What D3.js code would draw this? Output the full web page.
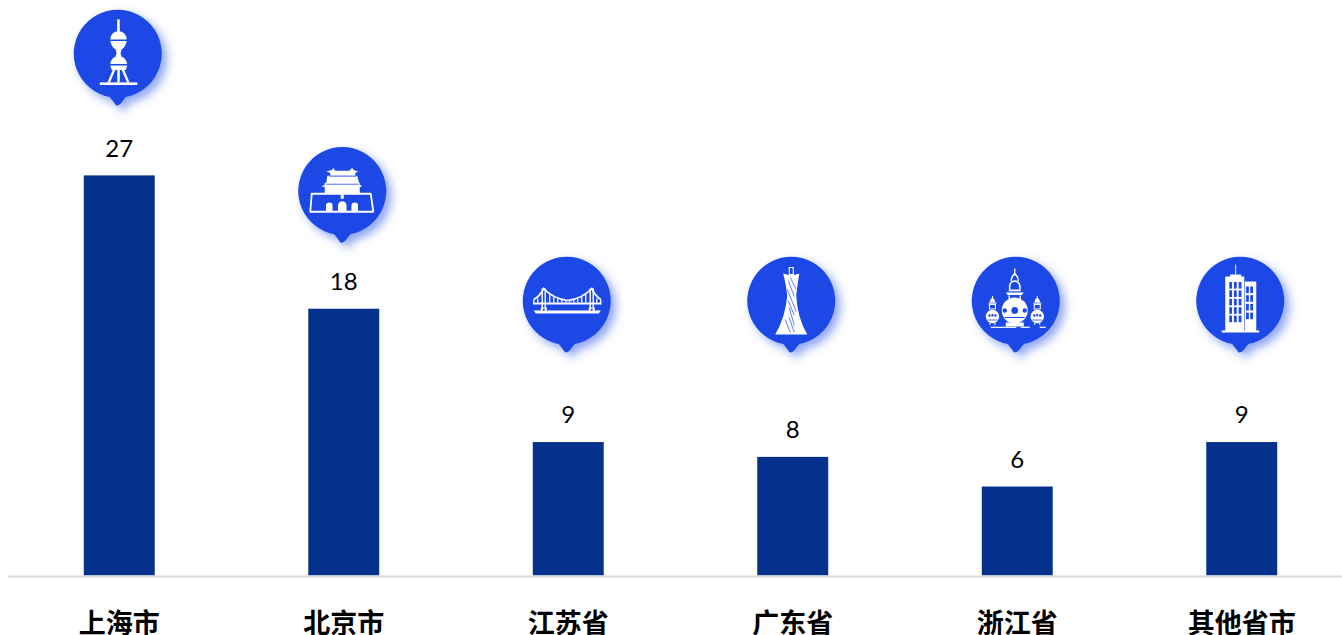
<!DOCTYPE html>
<html>
<head>
<meta charset="utf-8">
<script src="https://cdn.jsdelivr.net/npm/d3@7/dist/d3.min.js"></script>
<style>
  html, body { margin: 0; padding: 0; background: #fff; overflow: hidden; }
  svg { display: block; }
</style>
</head>
<body>
<div id="chart-area"></div>
<script>
var provinces = ["上海市", "北京市", "江苏省", "广东省", "浙江省", "其他省市"];
var counts = [27, 18, 9, 8, 6, 9];
var icons = ["tower", "gate", "bridge", "canton", "pagoda", "office"];

var width = 1342, height = 635;
var blue = "#1f4ae6", navy = "#03318c";

var svg = d3.select("#chart-area").append("svg")
    .attr("width", width)
    .attr("height", height);

var defs = svg.append("defs");
var shadow = defs.append("filter")
    .attr("id", "pin-shadow")
    .attr("x", "-30%").attr("y", "-30%")
    .attr("width", "170%").attr("height", "170%");
shadow.append("feDropShadow")
    .attr("dx", 5).attr("dy", 5)
    .attr("stdDeviation", 5)
    .attr("flood-color", blue)
    .attr("flood-opacity", 0.5);

var x = d3.scaleBand()
    .domain(provinces)
    .range([7, 1354])
    .paddingInner(0.684)
    .paddingOuter(0.342);

var y = d3.scaleLinear()
    .domain([0, 27])
    .range([575.4, 175.4]);

var rows = provinces.map((p, i) => ({ name: p, value: counts[i], icon: icons[i] }));

svg.selectAll("rect.bar")
    .data(rows)
    .enter().append("rect")
    .attr("class", "bar")
    .attr("x", d => x(d.name))
    .attr("y", d => y(d.value))
    .attr("width", x.bandwidth())
    .attr("height", d => y(0) - y(d.value))
    .attr("fill", navy);

svg.selectAll("text.value")
    .data(rows)
    .enter().append("text")
    .attr("class", "value")
    .attr("x", d => x(d.name) + x.bandwidth() / 2)
    .attr("y", d => y(d.value) - 18.6)
    .attr("text-anchor", "middle")
    .attr("font-family", "Lato, 'Open Sans', sans-serif")
    .attr("font-size", 24)
    .attr("fill", "#000")
    .text(d => d.value);

var axis = svg.append("g")
    .attr("transform", "translate(0,576)")
    .call(d3.axisBottom(x).tickSize(0).tickPadding(38));
axis.select(".domain").attr("stroke", "#d9d9d9").attr("stroke-width", 2);
axis.selectAll("text")
    .attr("font-family", "'Noto Sans CJK SC', sans-serif")
    .attr("font-size", 27)
    .attr("font-weight", 700)
    .attr("fill", "#000");

// white pictograms, drawn around the centre of each pin
function shape(g, tag, attrs, fill) {
    var s = g.append(tag).attr("fill", fill || "#fff");
    Object.keys(attrs).forEach(k => s.attr(k, attrs[k]));
    return s;
}
function line(g, d, w, colour) {
    return g.append("path").attr("d", d).attr("fill", "none")
        .attr("stroke", colour || "#fff").attr("stroke-width", w || 1);
}

var drawIcon = {
    tower: function (g) {
        shape(g, "rect", { x: -0.6, y: -35, width: 2.6, height: 14 });
        shape(g, "path", { d: "M-7.5,-15 A8,8 0 0 1 9,-15 Z" });
        shape(g, "path", { d: "M-7.5,-13.5 L9,-13.5 Q7,-4.5 1,-4.5 Q-5.5,-4.5 -7.5,-13.5 Z" });
        shape(g, "path", { d: "M-2.2,-5 L3.8,-5 L2.8,-1 L3.8,2 L-2.2,2 L-1.2,-1 Z" });
        shape(g, "path", { d: "M-7.5,9.5 Q-6,1.5 0.8,1.5 Q7.5,1.5 9.5,9.5 Z" });
        shape(g, "path", { d: "M-7.5,11 L9.5,11 L8,15.5 L-6,15.5 Z" });
        line(g, "M-3.5,15 L-9,28 M5,15 L10.5,28 M0.8,15 L0.8,28", 2.4);
        shape(g, "rect", { x: -18, y: 28, width: 37.5, height: 2.6 });
    },
    gate: function (g) {
        line(g, "M-30.5,2 L28.5,2 L31,20 L-32,20 Z", 1.8).attr("stroke-linejoin", "round");
        [[-13, 3.3], [0, 4.3], [12.5, 3.3]].forEach(a => {
            shape(g, "path", { d: "M" + (a[0] - a[1]) + ",20 V" + (15 - a[1] * 0.3) +
                " A" + a[1] + "," + a[1] + " 0 0 1 " + (a[0] + a[1]) + "," + (15 - a[1] * 0.3) + " V20 Z" });
        });
        shape(g, "rect", { x: -17.5, y: -9, width: 35, height: 11 });
        shape(g, "path", { d: "M-21,-5 L-16,-8 L-15,-16 L15,-16 L17,-8 L20,-5 Z" });
        shape(g, "path", { d: "M-12,-16 V-19 L-16,-20 L-10,-22 L-9,-24 L-7,-21 L7,-21 L10,-24 L11,-22 L16,-20 L13,-19 V-16 Z" });
        line(g, "M-13,-15.5 H14", 0.8, blue);
        line(g, "M-16,-7.5 H17", 0.8, blue);
        shape(g, "rect", { x: -1.5, y: 2, width: 3, height: 5 });
    },
    bridge: function (g) {
        shape(g, "rect", { x: -33, y: 1, width: 67, height: 2 });
        shape(g, "path", { d: "M-33,9 H34 L32,12 H-31 Z" });
        line(g, "M-33,-2 Q-27,-5 -23,-13 Q-14,-3 1,-1 Q16,-3 25,-13 Q29,-5 34,-2", 1.7);
        line(g, "M-33,-2 V3 M34,-2 V3", 1.3);
        line(g, "M-24.5,-13 V8 M-21.5,-13 V8 M23.5,-13 V8 M26.5,-13 V8", 1.4);
        line(g, "M-29,-3 V1 M-17,-7 V1 M-13,-4.5 V1 M-9,-3 V1 M-5,-2 V1 M-1,-1 V1 M3,-1 V1 M7,-2 V1 M11,-3 V1 M15,-4.5 V1 M19,-7 V1 M30,-3 V1", 1.3);
        shape(g, "rect", { x: -26, y: 6, width: 6, height: 4 });
        shape(g, "rect", { x: 22, y: 6, width: 6, height: 4 });
        shape(g, "rect", { x: -24, y: 7.2, width: 2, height: 2 }, blue);
        shape(g, "rect", { x: 24, y: 7.2, width: 2, height: 2 }, blue);
    },
    canton: function (g) {
        shape(g, "path", { d: "M-8,-28 Q0,-25 8,-28 Q6,-16 5,-6 Q6,16 16,33 H-16 Q-6,16 -4,-6 Q-5,-16 -8,-28 Z" });
        line(g, "M-2,-34 H2 V-27 H-2 Z", 1.1);
        line(g, "M-3,-21 L3,-5 M-1,-24 L5,-12 M-4,-12 L5,10 M-3,-1 L3,14 M-2,6 L3,24 M-6,18 L-1,31 M-2,16 L3,31", 0.7, blue);
    },
    pagoda: function (g) {
        // big urn
        shape(g, "circle", { cx: -1, cy: 9, r: 13 });
        shape(g, "circle", { cx: -1, cy: 9, r: 3.4 }, blue);
        shape(g, "circle", { cx: -11, cy: 9, r: 2.2 }, blue);
        shape(g, "circle", { cx: 9, cy: 9, r: 2.2 }, blue);
        line(g, "M-11,16 H9", 1, blue);
        shape(g, "rect", { x: -10, y: 21, width: 18, height: 4 });
        // top of the big urn
        line(g, "M-1,-33 V-26", 1.3);
        line(g, "M-1,-28 Q-5,-24 -4.5,-20.5 M-1,-28 Q3,-24 2.5,-20.5", 1.4);
        line(g, "M-6,-12 Q-7,-20 -1,-20.5 Q5,-20 4,-12", 1.6);
        shape(g, "rect", { x: -7, y: -12, width: 12, height: 1.8 });
        shape(g, "path", { d: "M-10,-9 H8 L6,-6.5 H-8 Z" });
        line(g, "M-6.5,-6 V-2 M4.5,-6 V-2 M-7,-1.5 H5", 1.4);
        // small urns either side
        [-23.3, 21.5].forEach(cx => {
            var s = g.append("g").attr("transform", "translate(" + cx + ",0)");
            line(s, "M0,-5.5 V-2", 1);
            shape(s, "path", { d: "M-2,-2 Q0,-5 2,-2 L3,1 H-3 Z" });
            shape(s, "rect", { x: -4, y: 1.2, width: 8, height: 1 });
            line(s, "M-3,3 H3 V7.5 H-3 Z", 1.1);
            shape(s, "circle", { cx: 0, cy: 15, r: 6.7 });
            shape(s, "circle", { cx: -3, cy: 14, r: 1.2 }, blue);
            shape(s, "circle", { cx: 3, cy: 14, r: 1.2 }, blue);
            shape(s, "rect", { x: -1, y: 12.5, width: 2, height: 2.4 }, blue);
            line(s, "M-5,18.5 H5", 0.8, blue);
            line(s, "M-2.5,21 V23.5 M2.5,21 V23.5", 1);
        });
        shape(g, "rect", { x: -25, y: 25.2, width: 25.5, height: 1.2 });
        shape(g, "rect", { x: 5, y: 25.2, width: 9, height: 1.2 });
        shape(g, "rect", { x: 24, y: 25.2, width: 6, height: 1.2 });
    },
    office: function (g) {
        shape(g, "rect", { x: -5, y: -37, width: 0.9, height: 10 });
        shape(g, "path", { d: "M-15,30 V-25 L-10,-25 L-10,-27 L1,-27 L1,-25 L4,-25 V30 Z" });
        shape(g, "rect", { x: 4.5, y: -20, width: 11.5, height: 50 });
        shape(g, "rect", { x: -18.5, y: 29, width: 37.5, height: 2 });
        d3.range(5).forEach(r => {
            [-11, -6.3, -1.6].forEach(c => {
                shape(g, "rect", { x: c, y: -19.5 + r * 8.4, width: 2.8, height: 6.6 }, blue);
            });
        });
        d3.range(4).forEach(r => {
            [5.8, 10].forEach(c => {
                shape(g, "rect", { x: c, y: -15 + r * 8.7, width: 2.8, height: 6.6 }, blue);
            });
        });
    }
};

// pins float above the bar but stop at a common height for the short bars
var pinLift = [121, 117, 117, 117, 117, 117];
var pins = svg.selectAll("g.pin")
    .data(rows)
    .enter().append("g")
    .attr("class", "pin")
    .attr("transform", (d, i) => "translate(" + (x(d.name) + x.bandwidth() / 2 - 1.5) + "," +
        Math.min(y(d.value) - pinLift[i], 301.5) + ")");

pins.append("path")
    .attr("d", "M-8,42.5 A44,44 0 1 1 8,42.5 L3,49 Q1,51 -1,51 Q-2,51 -3,49 Z")
    .attr("fill", blue)
    .attr("filter", "url(#pin-shadow)");

pins.each(function (d) {
    drawIcon[d.icon](d3.select(this));
});
</script>
</body>
</html>
